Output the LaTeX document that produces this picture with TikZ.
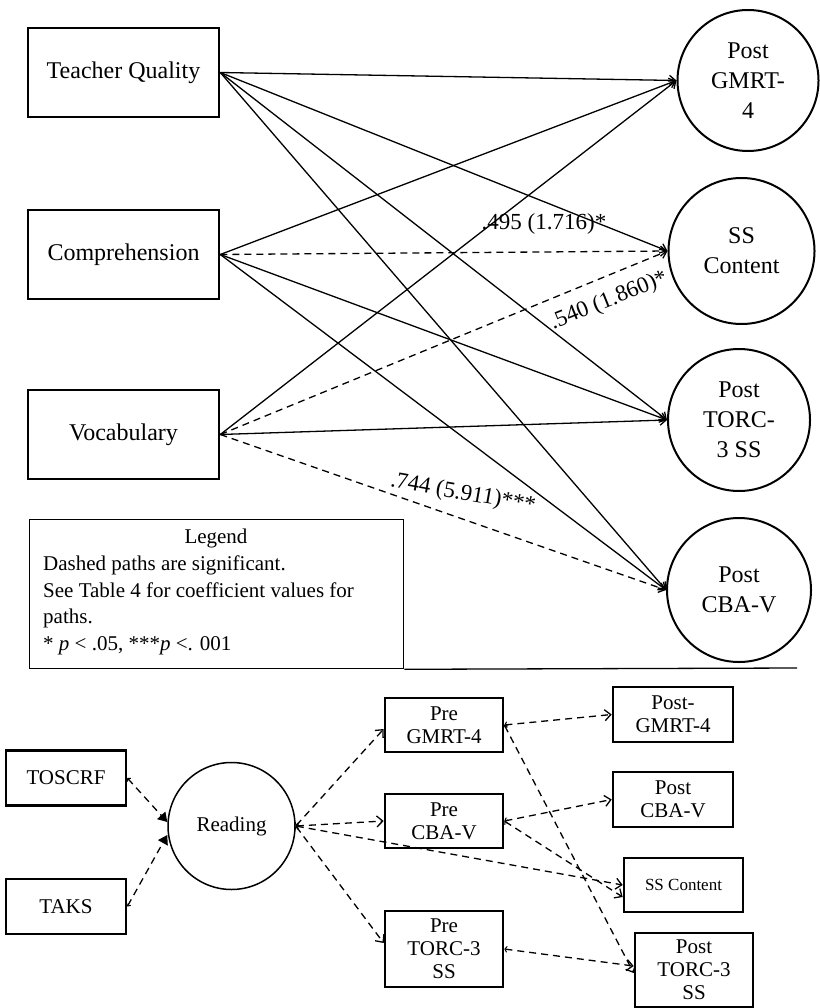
\documentclass[tikz,border=0pt]{standalone}
\usepackage{fontspec}
\setmainfont{Liberation Serif}
\usetikzlibrary{arrows.meta}
\begin{document}
\begin{tikzpicture}[x=1pt,y=-1pt,
  bigbox/.style={draw,line width=2.6pt,minimum width=191pt,minimum height=89pt,inner sep=0pt,font=\fontsize{24}{29}\selectfont},
  bigcirc/.style={draw,circle,line width=2pt,inner sep=0pt,align=center,font=\fontsize{24}{30}\selectfont},
  solidlink/.style={line width=1.3pt,-{Straight Barb[length=6pt,width=10pt]}},
  dashlink/.style={solidlink,dash pattern=on 7pt off 5pt},
  lbl/.style={inner sep=0pt,font=\fontsize{23}{27}\selectfont},
  legtxt/.style={inner sep=0pt,anchor=base west,font=\fontsize{21}{26}\selectfont},
  smallbox/.style={draw,line width=2.6pt,inner sep=0pt,align=center,font=\fontsize{21}{23}\selectfont},
  bdash/.style={line width=1.3pt,dash pattern=on 7pt off 5pt,{Straight Barb[length=2pt,width=6pt,line width=1pt]}-{Straight Barb[length=6pt,width=11pt]}},
  fdash/.style={line width=1.3pt,dash pattern=on 7pt off 5pt,{Straight Barb[length=2pt,width=5pt,line width=1pt]}-{Triangle[length=9pt,width=11pt]}}
]
\useasboundingbox (0,0) rectangle (819,1008);

% top: predictors
\node[bigbox] (tq) at (123.5,72.5) {Teacher Quality};
\node[bigbox] (comp) at (123.5,254.5) {Comprehension};
\node[bigbox] (voc) at (123.5,434.5) {Vocabulary};

% top: outcomes
\node[bigcirc,minimum size=141pt] (g4) at (748,80.5) {Post\\GMRT-\\4};
\node[bigcirc,minimum size=146pt] (ssc) at (741.5,251) {SS\\Content};
\node[bigcirc,minimum size=142pt] (torc) at (739,420) {Post\\TORC-\\3 SS};
\node[bigcirc,minimum size=144pt] (cba) at (739,590) {Post\\CBA-V};

% top connectors
\draw[solidlink] (tq.east) -- (g4.west);
\draw[solidlink] (tq.east) -- (ssc.west);
\draw[solidlink] (tq.east) -- (torc.west);
\draw[solidlink] (tq.east) -- (cba.west);
\draw[solidlink] (comp.east) -- (g4.west);
\draw[dashlink] (comp.east) -- (ssc.west);
\draw[solidlink] (comp.east) -- (torc.west);
\draw[solidlink] (comp.east) -- (cba.west);
\draw[solidlink] (voc.east) -- (g4.west);
\draw[dashlink] (voc.east) -- (ssc.west);
\draw[solidlink] (voc.east) -- (torc.west);
\draw[dashlink] (voc.east) -- (cba.west);

% coefficient labels
\node[lbl] (l1) at (544,224) {.495 (1.716)*};
\node[lbl,rotate=22] (l2) at (609,301) {.540 (1.860)*};
\node[lbl,rotate=-10] (l3) at (463,494) {.744 (5.911)***};

% legend
\node[draw,line width=1.3pt,minimum width=374pt,minimum height=149pt,inner sep=0pt,anchor=north west] (leg) at (29,519) {};
\node[legtxt,anchor=base] (lg0) at (216,543) {Legend};
\node[legtxt] (lg1) at (43,570) {Dashed paths are significant.};
\node[legtxt] (lg2) at (43,597) {See Table 4 for coefficient values for};
\node[legtxt] (lg3) at (43,623) {paths.};
\node[legtxt] (lg4) at (43,650) {* \textit{p} < .05, ***\textit{p} <. 001};
\coordinate (sepend) at (797,668);
\draw[line width=1.3pt] (leg.south east) -- (sepend);

% bottom nodes
\node[smallbox,minimum width=120pt,minimum height=55pt] (toscrf) at (66,778) {TOSCRF};
\node[smallbox,minimum width=120pt,minimum height=55pt] (taks) at (66,906.5) {TAKS};
\node[draw,circle,line width=1.5pt,minimum size=127pt,inner sep=0pt,font=\fontsize{21}{23}\selectfont] (read) at (231.5,826) {Reading};
\node[smallbox,minimum width=118pt,minimum height=54pt] (preg) at (444,725) {Pre\\GMRT-4};
\node[smallbox,minimum width=118pt,minimum height=54pt] (prec) at (444,821) {Pre\\CBA-V};
\node[smallbox,minimum width=118pt,minimum height=76pt] (pret) at (444,949) {Pre\\TORC-3\\SS};
\node[smallbox,minimum width=120pt,minimum height=55pt] (postg) at (673,714.5) {Post-\\GMRT-4};
\node[smallbox,minimum width=120pt,minimum height=55pt] (postc) at (673,799.5) {Post\\CBA-V};
\node[smallbox,minimum width=119pt,minimum height=54pt,font=\fontsize{17}{20}\selectfont] (ssb) at (683.5,885) {SS Content};
\node[smallbox,minimum width=118pt,minimum height=74pt] (postt) at (694,970) {Post\\TORC-3\\SS};

% bottom connectors
\draw[fdash] (toscrf.east) -- ([yshift=4pt]read.west);
\draw[fdash] (taks.east) -- ([yshift=-9pt]read.west);
\draw[bdash] (read.east) -- ([yshift=-4pt]preg.west);
\draw[bdash] (read.east) -- (prec.west);
\draw[bdash] (read.east) -- (ssb.west);
\draw[bdash] (read.east) -- ([yshift=6pt]pret.west);
\draw[bdash] (preg.east) -- (postg.west);
\draw[bdash] (preg.east) -- ([yshift=-3pt]postt.west);
\draw[bdash] (prec.east) -- (postc.west);
\draw[bdash] (prec.east) -- ([yshift=-12pt]ssb.west);
\draw[bdash] (pret.east) -- ([yshift=4pt]postt.west);
\end{tikzpicture}
\end{document}
